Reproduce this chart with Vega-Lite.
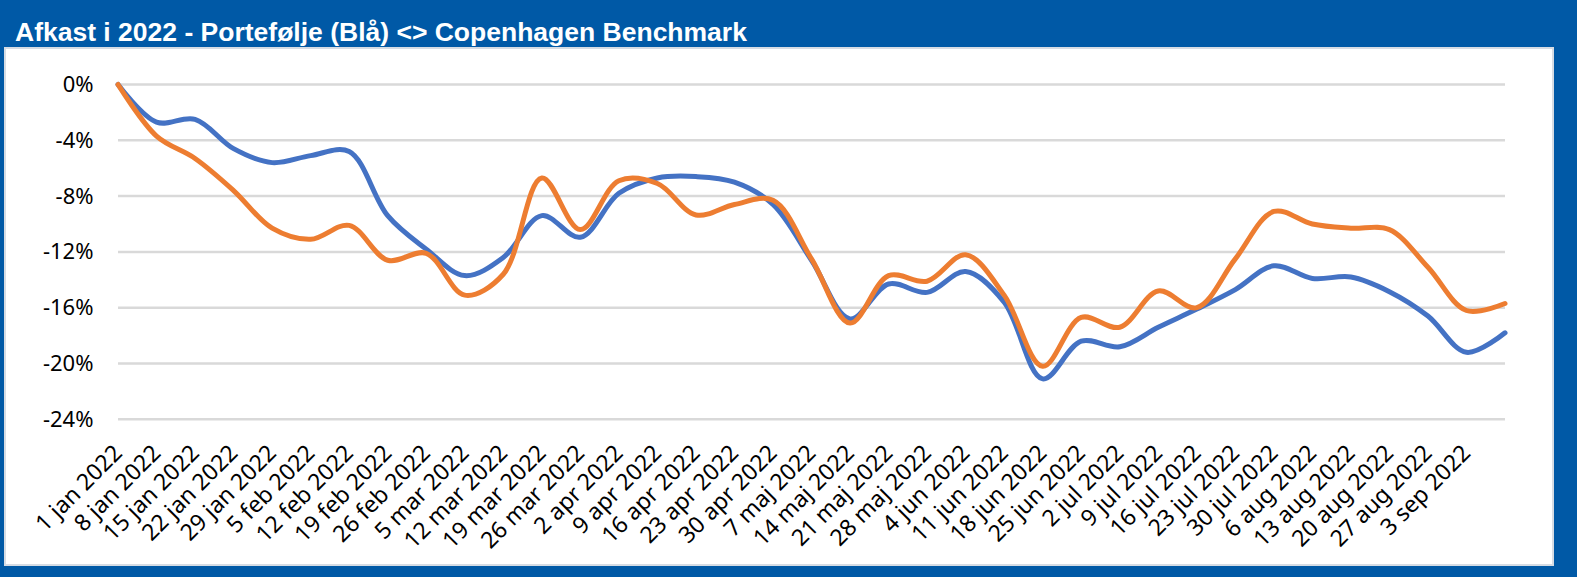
{
  "$schema": "https://vega.github.io/schema/vega-lite/v6.json",
  "autosize": {"type": "none"},
  "width": 1548,
  "height": 517,
  "padding": {"left": 5, "top": 48, "right": 24, "bottom": 12},
  "background": "#0059A6",
  "title": {
    "text": "Afkast i 2022 - Portefølje (Blå) <> Copenhagen Benchmark",
    "anchor": "start",
    "color": "white",
    "font": "Liberation Sans",
    "fontSize": 26.5,
    "fontWeight": "bold",
    "offset": 4,
    "dx": 10,
    "dy": 29,
    "baseline": "bottom"
  },
  "config": {
    "view": {"fill": "white", "stroke": "#d6dce4", "strokeWidth": 2},
    "axis": {"labelFont": "Noto Sans", "labelFontSize": 22, "labelColor": "#000000"}
  },
  "datasets": {
    "grid": [{"g": 0}, {"g": -4}, {"g": -8}, {"g": -12}, {"g": -16}, {"g": -20}, {"g": -24}],
    "series": [
      {"d": "1 jan 2022", "s": "Portefølje", "v": 0},
      {"d": "8 jan 2022", "s": "Portefølje", "v": -2.7},
      {"d": "15 jan 2022", "s": "Portefølje", "v": -2.5},
      {"d": "22 jan 2022", "s": "Portefølje", "v": -4.6},
      {"d": "29 jan 2022", "s": "Portefølje", "v": -5.6},
      {"d": "5 feb 2022", "s": "Portefølje", "v": -5.1},
      {"d": "12 feb 2022", "s": "Portefølje", "v": -4.8},
      {"d": "19 feb 2022", "s": "Portefølje", "v": -9.4},
      {"d": "26 feb 2022", "s": "Portefølje", "v": -11.8},
      {"d": "5 mar 2022", "s": "Portefølje", "v": -13.7},
      {"d": "12 mar 2022", "s": "Portefølje", "v": -12.4},
      {"d": "19 mar 2022", "s": "Portefølje", "v": -9.4},
      {"d": "26 mar 2022", "s": "Portefølje", "v": -10.95},
      {"d": "2 apr 2022", "s": "Portefølje", "v": -7.8},
      {"d": "9 apr 2022", "s": "Portefølje", "v": -6.7},
      {"d": "16 apr 2022", "s": "Portefølje", "v": -6.6},
      {"d": "23 apr 2022", "s": "Portefølje", "v": -7.0},
      {"d": "30 apr 2022", "s": "Portefølje", "v": -8.6},
      {"d": "7 maj 2022", "s": "Portefølje", "v": -12.6},
      {"d": "14 maj 2022", "s": "Portefølje", "v": -16.8},
      {"d": "21 maj 2022", "s": "Portefølje", "v": -14.3},
      {"d": "28 maj 2022", "s": "Portefølje", "v": -14.9},
      {"d": "4 jun 2022", "s": "Portefølje", "v": -13.4},
      {"d": "11 jun 2022", "s": "Portefølje", "v": -15.6},
      {"d": "18 jun 2022", "s": "Portefølje", "v": -21.1},
      {"d": "25 jun 2022", "s": "Portefølje", "v": -18.4},
      {"d": "2 jul 2022", "s": "Portefølje", "v": -18.8},
      {"d": "9 jul 2022", "s": "Portefølje", "v": -17.4},
      {"d": "16 jul 2022", "s": "Portefølje", "v": -16.1},
      {"d": "23 jul 2022", "s": "Portefølje", "v": -14.7},
      {"d": "30 jul 2022", "s": "Portefølje", "v": -13.0},
      {"d": "6 aug 2022", "s": "Portefølje", "v": -13.9},
      {"d": "13 aug 2022", "s": "Portefølje", "v": -13.8},
      {"d": "20 aug 2022", "s": "Portefølje", "v": -14.85},
      {"d": "27 aug 2022", "s": "Portefølje", "v": -16.6},
      {"d": "3 sep 2022", "s": "Portefølje", "v": -19.2},
      {"d": "10 sep 2022", "s": "Portefølje", "v": -17.8},
      {"d": "1 jan 2022", "s": "Copenhagen Benchmark", "v": 0},
      {"d": "8 jan 2022", "s": "Copenhagen Benchmark", "v": -3.7},
      {"d": "15 jan 2022", "s": "Copenhagen Benchmark", "v": -5.3},
      {"d": "22 jan 2022", "s": "Copenhagen Benchmark", "v": -7.6},
      {"d": "29 jan 2022", "s": "Copenhagen Benchmark", "v": -10.3},
      {"d": "5 feb 2022", "s": "Copenhagen Benchmark", "v": -11.1},
      {"d": "12 feb 2022", "s": "Copenhagen Benchmark", "v": -10.1},
      {"d": "19 feb 2022", "s": "Copenhagen Benchmark", "v": -12.6},
      {"d": "26 feb 2022", "s": "Copenhagen Benchmark", "v": -12.1},
      {"d": "5 mar 2022", "s": "Copenhagen Benchmark", "v": -15.1},
      {"d": "12 mar 2022", "s": "Copenhagen Benchmark", "v": -13.6},
      {"d": "19 mar 2022", "s": "Copenhagen Benchmark", "v": -6.7},
      {"d": "26 mar 2022", "s": "Copenhagen Benchmark", "v": -10.4},
      {"d": "2 apr 2022", "s": "Copenhagen Benchmark", "v": -6.9},
      {"d": "9 apr 2022", "s": "Copenhagen Benchmark", "v": -7.1},
      {"d": "16 apr 2022", "s": "Copenhagen Benchmark", "v": -9.35},
      {"d": "23 apr 2022", "s": "Copenhagen Benchmark", "v": -8.6},
      {"d": "30 apr 2022", "s": "Copenhagen Benchmark", "v": -8.3},
      {"d": "7 maj 2022", "s": "Copenhagen Benchmark", "v": -12.5},
      {"d": "14 maj 2022", "s": "Copenhagen Benchmark", "v": -17.1},
      {"d": "21 maj 2022", "s": "Copenhagen Benchmark", "v": -13.7},
      {"d": "28 maj 2022", "s": "Copenhagen Benchmark", "v": -14.1},
      {"d": "4 jun 2022", "s": "Copenhagen Benchmark", "v": -12.2},
      {"d": "11 jun 2022", "s": "Copenhagen Benchmark", "v": -15.1},
      {"d": "18 jun 2022", "s": "Copenhagen Benchmark", "v": -20.2},
      {"d": "25 jun 2022", "s": "Copenhagen Benchmark", "v": -16.7},
      {"d": "2 jul 2022", "s": "Copenhagen Benchmark", "v": -17.4},
      {"d": "9 jul 2022", "s": "Copenhagen Benchmark", "v": -14.8},
      {"d": "16 jul 2022", "s": "Copenhagen Benchmark", "v": -16.0},
      {"d": "23 jul 2022", "s": "Copenhagen Benchmark", "v": -12.5},
      {"d": "30 jul 2022", "s": "Copenhagen Benchmark", "v": -9.1},
      {"d": "6 aug 2022", "s": "Copenhagen Benchmark", "v": -10.0},
      {"d": "13 aug 2022", "s": "Copenhagen Benchmark", "v": -10.3},
      {"d": "20 aug 2022", "s": "Copenhagen Benchmark", "v": -10.4},
      {"d": "27 aug 2022", "s": "Copenhagen Benchmark", "v": -13.1},
      {"d": "3 sep 2022", "s": "Copenhagen Benchmark", "v": -16.2},
      {"d": "10 sep 2022", "s": "Copenhagen Benchmark", "v": -15.7}
    ]
  },
  "layer": [
    {
      "data": {"name": "grid"},
      "mark": {"type": "rule", "color": "#d9d9d9", "strokeWidth": 2.5},
      "encoding": {
        "y": {
          "field": "g",
          "type": "quantitative",
          "scale": {"domain": [-24, 0], "range": [371.3, 36.5], "nice": false, "zero": false},
          "axis": {
            "values": [0, -4, -8, -12, -16, -20, -24],
            "labelExpr": "datum.value + '%'",
            "domain": false,
            "ticks": false,
            "tickSize": 0,
            "grid": false,
            "labelPadding": 0,
            "offset": -88,
            "title": null
          }
        },
        "x": {"datum": "1 jan 2022", "type": "ordinal"},
        "x2": {"datum": "10 sep 2022"}
      }
    },
    {
      "data": {"name": "series"},
      "mark": {"type": "line", "interpolate": "catmull-rom", "strokeWidth": 5, "strokeCap": "round"},
      "encoding": {
        "x": {
          "field": "d",
          "type": "ordinal",
          "scale": {
            "type": "point",
            "padding": 0,
            "range": [113, 1500],
            "domain": ["1 jan 2022", "8 jan 2022", "15 jan 2022", "22 jan 2022", "29 jan 2022", "5 feb 2022", "12 feb 2022", "19 feb 2022", "26 feb 2022", "5 mar 2022", "12 mar 2022", "19 mar 2022", "26 mar 2022", "2 apr 2022", "9 apr 2022", "16 apr 2022", "23 apr 2022", "30 apr 2022", "7 maj 2022", "14 maj 2022", "21 maj 2022", "28 maj 2022", "4 jun 2022", "11 jun 2022", "18 jun 2022", "25 jun 2022", "2 jul 2022", "9 jul 2022", "16 jul 2022", "23 jul 2022", "30 jul 2022", "6 aug 2022", "13 aug 2022", "20 aug 2022", "27 aug 2022", "3 sep 2022", "10 sep 2022"]
          },
          "axis": {
            "labelAngle": -45,
            "labelOverlap": false,
            "labelFontSize": 23,
            "domain": false,
            "ticks": false,
            "tickSize": 0,
            "grid": false,
            "offset": -120,
            "labelPadding": 4,
            "title": null,
            "labelExpr": "datum.value == '10 sep 2022' ? '' : datum.value"
          }
        },
        "y": {"field": "v", "type": "quantitative"},
        "color": {
          "field": "s",
          "type": "nominal",
          "scale": {"domain": ["Portefølje", "Copenhagen Benchmark"], "range": ["#4472C4", "#ED7D31"]},
          "legend": null
        }
      }
    }
  ]
}
